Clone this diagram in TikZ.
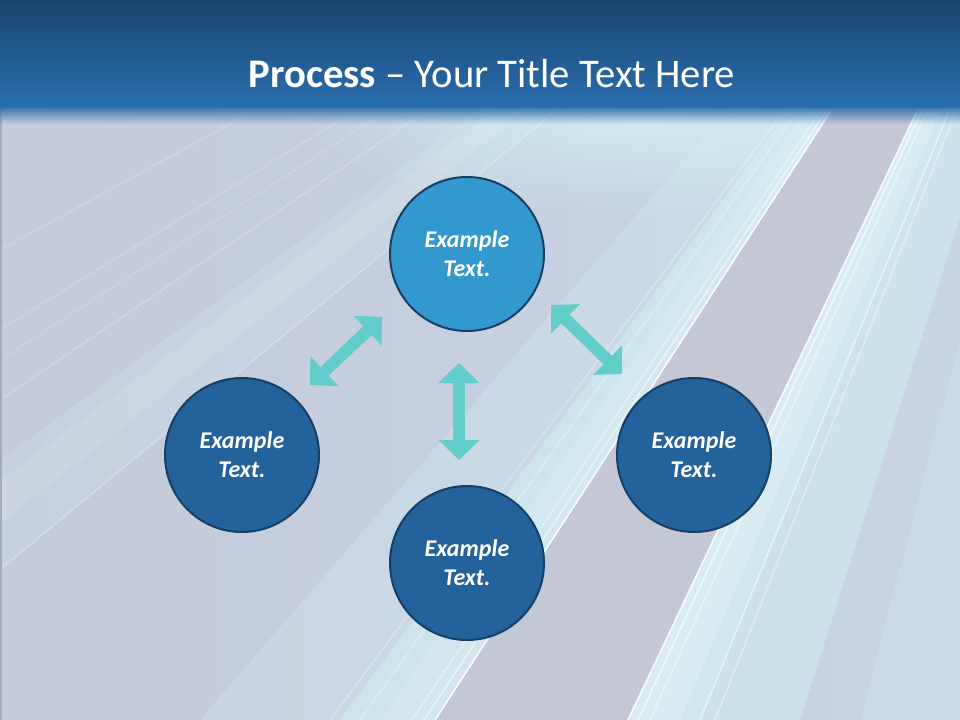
\documentclass[tikz,border=0pt]{standalone}
\usepackage{fontspec}
\setmainfont{Carlito}
\usetikzlibrary{arrows.meta,fadings}

\definecolor{barTop}{HTML}{1A4570}
\definecolor{barBottom}{HTML}{2A6EAE}
\definecolor{bgLeft}{HTML}{C3CADA}
\definecolor{bgRight}{HTML}{C8D5E5}
\definecolor{bgGray}{HTML}{C4C7D4}
\definecolor{glow}{HTML}{D3F0F3}
\definecolor{hubFill}{HTML}{3398CE}
\definecolor{stepFill}{HTML}{23629B}
\definecolor{ringLine}{HTML}{173F66}
\definecolor{arrowTeal}{HTML}{62CDCA}

\tikzfading[name=softglow, inner color=transparent!10, outer color=transparent!100]

\tikzset{
  hub/.style={circle, draw=ringLine, line width=1.5pt, fill=hubFill, minimum size=115.5pt,
    inner sep=0pt, align=center, text=white, font=\fontsize{18}{21.6}\selectfont\bfseries\itshape},
  stepnode/.style={hub, fill=stepFill},
  twoway/.style={arrowTeal, line width=9pt,
    {Triangle[length=15pt,width=30pt]}-{Triangle[length=15pt,width=30pt]}},
  streak/.style={white, line width=1.2pt}
}

\begin{document}
\begin{tikzpicture}[x=0.75pt, y=-0.75pt]
\useasboundingbox (0,0) rectangle (960,720);

% background
\shade[left color=bgLeft, right color=bgRight] (0,0) rectangle (960,720);
\begin{scope}
\clip (0,100) rectangle (960,720);
\coordinate (V) at (1150,-380);
\fill[glow, path fading=softglow] (640,110) ellipse (340 and 110);
\foreach \a/\b/\c/\o in {435/628/bgGray/1, 628/800/glow/0.5, 628/700/glow/0.35,
    628/680/white/0.2, 340/435/glow/0.5, 380/435/white/0.15, 200/435/glow/0.3,
    860/1000/glow/0.25, -356/-182/glow/0.2, -320/-250/white/0.1}
  \fill[\c, opacity=\o] (V) -- (\a,720) -- (\b,720) -- cycle;
\foreach \a/\o in {435/0.9, 424/0.5, 412/0.35, 628/0.9, 638/0.6, 650/0.4, 700/0.5,
    715/0.35, 330/0.25, 360/0.25, -182/0.25, -472/0.18, -560/0.12, -632/0.15, -858/0.15}
  \draw[streak, opacity=\o] (V) -- (\a,720);
\end{scope}
\draw[bgLeft!60!gray, line width=1.5pt] (1,108) -- (1,720);

% title bar
\shade[top color=barTop, bottom color=barBottom] (0,0) rectangle (960,108);
\foreach \i in {0,...,7}
  \fill[barBottom, opacity={0.85-0.11*\i}] (0,{108+2*\i}) rectangle (960,{110+2*\i});
\node[anchor=base, text=white, font=\fontsize{30.5}{36}\selectfont] (title) at (492,87.5)
  {\textbf{Process} \textendash{} Your Title Text Here};

% circles
\node[hub] (top) at (467,254) {Example\\Text.};
\node[stepnode] (left) at (242,455) {Example\\Text.};
\node[stepnode] (right) at (694,455) {Example\\Text.};
\node[stepnode] (bottom) at (467,563) {Example\\Text.};

% arrows
\coordinate (l1) at (382,317);
\coordinate (l2) at (310,385);
\coordinate (r1) at (551,305);
\coordinate (r2) at (622,374);
\coordinate (m1) at (459,363);
\coordinate (m2) at (459,460);
\draw[twoway] (l1) -- (l2);
\draw[twoway] (r1) -- (r2);
\draw[twoway] (m1) -- (m2);
\end{tikzpicture}
\end{document}
